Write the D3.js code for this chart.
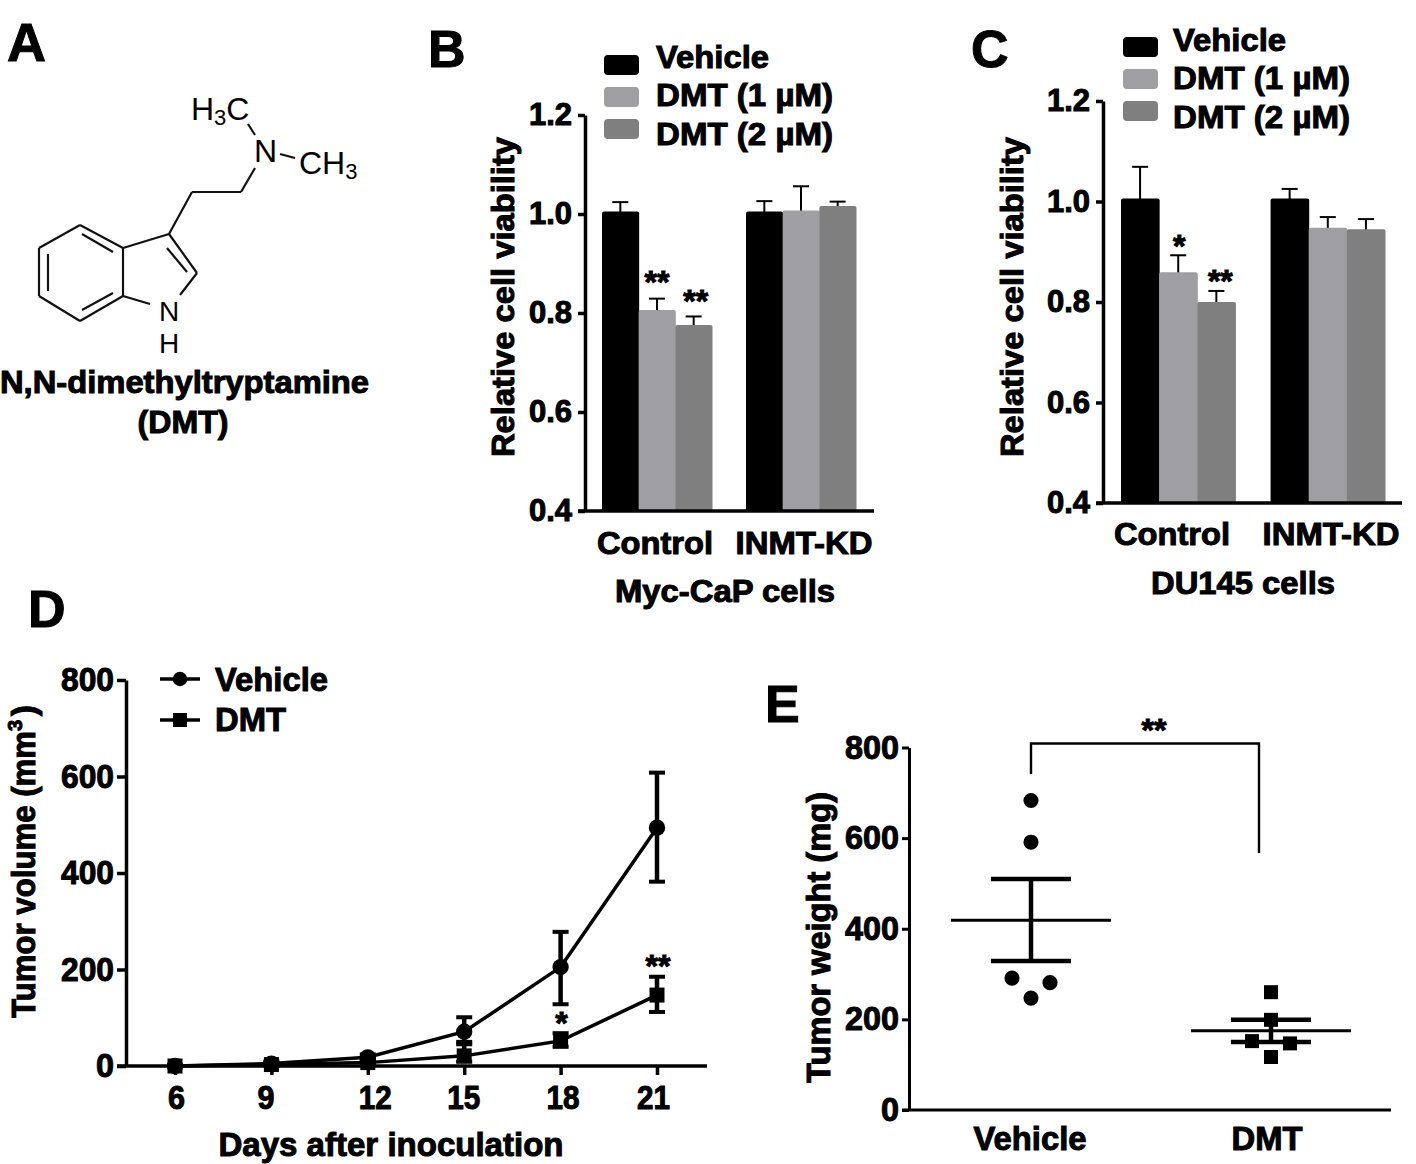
<!DOCTYPE html>
<html>
<head>
<meta charset="utf-8">
<script src="https://cdn.jsdelivr.net/npm/d3@7"></script>
<style>
  html, body { margin: 0; padding: 0; background: #fff; }
  svg { display: block; }
  text { font-family: "Liberation Sans", Arial, sans-serif; fill: #000; }
  .b { font-weight: bold; stroke: #000; stroke-width: 1px; }
</style>
</head>
<body>
<svg id="fig"></svg>
<script>
const width = 1416;
const height = 1164;

// Panels B and C
const barGroups = ["Control", "INMT-KD"];
const barSeries = ["Vehicle", "DMT (1 µM)", "DMT (2 µM)"];
const barColors = ["#000000", "#9f9fa3", "#7f7f7f"];
const barTicks = [0.4, 0.6, 0.8, 1.0, 1.2];
const mycMeans = [[1.005, 0.806, 0.776], [1.005, 1.007, 1.016]];
const mycUpper = [[1.024, 0.829, 0.793], [1.026, 1.056, 1.025]];
const mycStars = [["", "**", "**"], ["", "", ""]];
const duMeans = [[1.006, 0.859, 0.80], [1.006, 0.948, 0.945]];
const duUpper = [[1.069, 0.893, 0.822], [1.025, 0.969, 0.965]];
const duStars = [["", "*", "**"], ["", "", ""]];

// Panel D
const days = [6, 9, 12, 15, 18, 21];
const dayLabelShift = [1, -6, 7, -1, 2, -4];
const volTicks = [0, 200, 400, 600, 800];
const vehVol = [0, 5, 18, 71, 205, 494];
const vehVolLow = [0, 2, 12, 45, 128, 382];
const vehVolHigh = [2, 9, 24, 101, 278, 608];
const dmtVol = [0, 3, 7, 21, 52, 147];
const dmtVolLow = [0, 1, 3, 9, 40, 112];
const dmtVolHigh = [2, 6, 12, 50, 68, 185];
const dayStars = ["", "", "", "", "*", "**"];

// Panel E
const weightTicks = [0, 200, 400, 600, 800];
const weightGroups = ["Vehicle", "DMT"];
const vehWeights = [683, 591, 291, 281, 247];
const vehJitter = [0, 0, -19, 19, 0];
const dmtWeights = [260, 199, 152, 147, 117];
const dmtJitter = [0, 0, -19, 19, 0];
const weightMean = [419, 175];
const weightLow = [329, 150];
const weightHigh = [510, 199];

const svg = d3.select("svg#fig").attr("width", width).attr("height", height);

function txt(g, s, x, y, size, opts) {
  opts = opts || {};
  const t = g.append("text")
    .attr("x", x).attr("y", y)
    .attr("font-size", size)
    .attr("text-anchor", opts.anchor || "start")
    .text(s);
  if (opts.bold !== false) t.attr("class", "b");
  if (opts.len) t.attr("textLength", opts.len).attr("lengthAdjust", "spacingAndGlyphs");
  if (opts.rotate) t.attr("transform", "rotate(-90," + x + "," + y + ")");
  return t;
}

function styleAxis(g, w, size) {
  g.selectAll("path.domain").attr("stroke", "#000").attr("stroke-width", w);
  g.selectAll(".tick line").attr("stroke", "#000").attr("stroke-width", w);
  g.selectAll(".tick text")
    .attr("class", "b")
    .attr("font-size", size)
    .attr("font-family", null);
  g.attr("font-family", null).attr("font-size", null);
}

// Panel letters
txt(svg, "A", 7, 61, 54);
txt(svg, "B", 428, 67, 52);
txt(svg, "C", 971, 67, 52);
txt(svg, "D", 28, 627, 52);
txt(svg, "E", 765, 722, 52);

// ---- A: structure, drawn as plain bonds
const bonds = [
  [80,225,123,248],[123,248,123,296],[123,296,80,321],[80,321,39,296],[39,296,39,248],[39,248,80,225],
  [82,234,113,252],[48,254,48,291],[82,310,113,293],
  [123,248,169,234],[169,234,197,273],[197,273,180,295],[123,296,150,304],[167,248,187,272],
  [169,234,192,192],[192,192,241,192],[241,192,255,168],[248,124,255,135],[280,154,295,158]
];
const mol = svg.append("g");
mol.selectAll("line").data(bonds).enter().append("line")
  .attr("x1", d => d[0]).attr("y1", d => d[1]).attr("x2", d => d[2]).attr("y2", d => d[3])
  .attr("stroke", "#111").attr("stroke-width", 2.2);
const h3c = txt(mol, "H", 191, 120, 32, {bold: false});
h3c.append("tspan").text("3").attr("font-size", 22).attr("dy", 5);
h3c.append("tspan").text("C").attr("dy", -5);
txt(mol, "N", 254, 162, 32, {bold: false});
const ch3 = txt(mol, "CH", 299, 174, 32, {bold: false});
ch3.append("tspan").text("3").attr("font-size", 22).attr("dy", 5);
txt(mol, "N", 159, 321, 28, {bold: false});
txt(mol, "H", 159, 353, 28, {bold: false});
txt(svg, "N,N-dimethyltryptamine", 0, 393, 31, {len: 369});
txt(svg, "(DMT)", 183, 433, 31, {anchor: "middle", len: 91});

// ---- B and C
function barPanel(c) {
  const g = svg.append("g");
  const y = d3.scaleLinear().domain([0.4, 1.2]).range([c.y0, c.y1]);
  const x0 = d3.scaleBand().domain(barGroups).range([c.x0, c.x1]).paddingInner(c.gap);
  const x1 = d3.scaleBand().domain(d3.range(barSeries.length)).range([0, x0.bandwidth()]);

  barGroups.forEach(function(name, i) {
    const cell = g.append("g").attr("transform", "translate(" + x0(name) + ",0)");
    const rows = barSeries.map((s, j) => ({j: j, mean: c.means[i][j], up: c.upper[i][j], star: c.stars[i][j]}));
    cell.selectAll("line.stem").data(rows).enter().append("line").attr("class", "stem")
      .attr("x1", d => x1(d.j) + x1.bandwidth() / 2).attr("x2", d => x1(d.j) + x1.bandwidth() / 2)
      .attr("y1", d => y(d.mean) + 2).attr("y2", d => y(d.up))
      .attr("stroke", "#000").attr("stroke-width", 2);
    cell.selectAll("line.cap").data(rows).enter().append("line").attr("class", "cap")
      .attr("x1", d => x1(d.j) + x1.bandwidth() / 2 - 8).attr("x2", d => x1(d.j) + x1.bandwidth() / 2 + 8)
      .attr("y1", d => y(d.up)).attr("y2", d => y(d.up))
      .attr("stroke", "#000").attr("stroke-width", 2);
    cell.selectAll("rect").data(rows).enter().append("rect")
      .attr("x", d => x1(d.j)).attr("width", x1.bandwidth() + 0.5)
      .attr("y", d => y(d.mean)).attr("height", d => y(0.4) - y(d.mean))
      .attr("rx", 2)
      .attr("fill", d => barColors[d.j]);
    cell.selectAll("text").data(rows.filter(d => d.star)).enter().append("text")
      .attr("class", "b")
      .attr("x", d => x1(d.j) + x1.bandwidth() / 2 + c.starDx[d.j])
      .attr("y", d => y(d.up) - c.starGap[d.j] + 15)
      .attr("text-anchor", "middle").attr("font-size", 32)
      .text(d => d.star);
  });

  const yAxis = g.append("g")
    .attr("transform", "translate(" + c.axisX + ",0)")
    .call(d3.axisLeft(y).tickValues(barTicks).tickFormat(d3.format(".1f")).tickSize(7).tickSizeOuter(0).tickPadding(6));
  styleAxis(yAxis, 3.5, 31);
  g.append("line")
    .attr("x1", c.axisX - 7).attr("x2", c.axisEnd)
    .attr("y1", y(0.4)).attr("y2", y(0.4))
    .attr("stroke", "#000").attr("stroke-width", 3.5);

  txt(g, "Control", c.catX[0], c.catY, 31, {anchor: "middle", len: 116});
  txt(g, "INMT-KD", c.catX[1], c.catY, 31, {anchor: "middle", len: 137});
  txt(g, c.title, c.titleX, c.titleY, 31, {anchor: "middle", len: c.titleLen});
  txt(g, "Relative cell viability", c.labelX, 457, 31, {rotate: true, len: 320});

  g.selectAll("rect.key").data(barSeries).enter().append("rect").attr("class", "key")
    .attr("x", c.keyX).attr("width", 35).attr("height", 20)
    .attr("y", (d, i) => c.keyY[i]).attr("rx", 4)
    .attr("fill", (d, i) => barColors[i]);
  barSeries.forEach((s, i) => txt(g, s, c.keyTextX, c.keyTextY[i], 31, {len: i ? 177 : 113}));
}

barPanel({
  means: mycMeans, upper: mycUpper, stars: mycStars,
  y0: 511, y1: 115, x0: 602, x1: 856, gap: 34 / 144, starDx: [0, 0, 2], starGap: [0, 21, 19],
  axisX: 585, axisEnd: 874, catX: [655, 804], catY: 554,
  title: "Myc-CaP cells", titleX: 725, titleY: 602, titleLen: 220, labelX: 514,
  keyX: 604, keyY: [55, 87, 119], keyTextX: 656, keyTextY: [68, 106, 145]
});
barPanel({
  means: duMeans, upper: duUpper, stars: duStars,
  y0: 503, y1: 101, x0: 1121, x1: 1385, gap: 35 / 149, starDx: [0, 1, 4], starGap: [0, 13, 14],
  axisX: 1103, axisEnd: 1402, catX: [1172, 1331], catY: 545,
  title: "DU145 cells", titleX: 1243, titleY: 594, titleLen: 184, labelX: 1023,
  keyX: 1123, keyY: [37, 69, 101], keyTextX: 1173, keyTextY: [51, 89, 128]
});

// ---- D
const gd = svg.append("g");
const xd = d3.scalePoint().domain(days).range([175, 657]);
const yd = d3.scaleLinear().domain([0, 800]).range([1066, 680]);
const line = d3.line().x((d, i) => xd(days[i])).y(d => yd(d));

function volSeries(vals, low, high, square) {
  gd.append("path").datum(vals).attr("d", line)
    .attr("fill", "none").attr("stroke", "#000").attr("stroke-width", 3.5);
  const rows = days.map((d, i) => ({d: d, v: vals[i], lo: low[i], hi: high[i]}));
  const e = gd.append("g").selectAll("g").data(rows).enter().append("g");
  e.append("line").attr("x1", d => xd(d.d)).attr("x2", d => xd(d.d))
    .attr("y1", d => yd(d.lo)).attr("y2", d => yd(d.hi))
    .attr("stroke", "#000").attr("stroke-width", 4.5);
  [d => d.lo, d => d.hi].forEach(f => {
    e.append("line").attr("x1", d => xd(d.d) - 8).attr("x2", d => xd(d.d) + 8)
      .attr("y1", d => yd(f(d))).attr("y2", d => yd(f(d)))
      .attr("stroke", "#000").attr("stroke-width", 4);
  });
  const sym = d3.symbol().type(square ? d3.symbolSquare : d3.symbolCircle).size(square ? 225 : 210);
  e.append("path").attr("d", sym).attr("transform", d => "translate(" + xd(d.d) + "," + yd(d.v) + ")");
}
volSeries(vehVol, vehVolLow, vehVolHigh, false);
volSeries(dmtVol, dmtVolLow, dmtVolHigh, true);

days.forEach(function(d, i) {
  if (dayStars[i]) txt(gd, dayStars[i], xd(d) + 1, yd(dmtVolHigh[i]) + (i == 4 ? 1 : 0), 32, {anchor: "middle"});
});

const ydAxis = gd.append("g").attr("transform", "translate(126,0)")
  .call(d3.axisLeft(yd).tickValues(volTicks).tickSize(9).tickSizeOuter(0).tickPadding(3));
styleAxis(ydAxis, 3.5, 33);
ydAxis.selectAll(".tick text").attr("textLength", 53).attr("lengthAdjust", "spacingAndGlyphs");
ydAxis.selectAll(".tick text").filter(d => d == 0).attr("textLength", 18);
const xdAxis = gd.append("g").attr("transform", "translate(0,1066)")
  .call(d3.axisBottom(xd).tickSize(9).tickSizeOuter(0).tickPadding(11));
styleAxis(xdAxis, 3.5, 33);
xdAxis.select("path.domain").remove();
xdAxis.selectAll(".tick text")
  .attr("dx", (d, i) => dayLabelShift[i])
  .attr("textLength", d => d < 10 ? 17 : 33)
  .attr("lengthAdjust", "spacingAndGlyphs");
gd.append("line").attr("x1", 117).attr("x2", 707).attr("y1", 1066).attr("y2", 1066)
  .attr("stroke", "#000").attr("stroke-width", 3.5);

txt(gd, "Tumor volume (mm", 35, 1018, 33, {rotate: true, len: 287});
txt(gd, "3", 22, 731, 20, {rotate: true});
txt(gd, ")", 35, 716, 33, {rotate: true});
txt(gd, "Days after inoculation", 391, 1156, 33, {anchor: "middle", len: 345});

// legend for D
const keyD = gd.append("g");
[["Vehicle", 679, false, 691, 113], ["DMT", 720, true, 731, 71]].forEach(function(k) {
  keyD.append("line").attr("x1", 160).attr("x2", 200).attr("y1", k[1]).attr("y2", k[1])
    .attr("stroke", "#000").attr("stroke-width", 3.5);
  keyD.append("path")
    .attr("d", d3.symbol().type(k[2] ? d3.symbolSquare : d3.symbolCircle).size(k[2] ? 196 : 165))
    .attr("transform", "translate(180," + k[1] + ")");
  txt(keyD, k[0], 215, k[3], 33, {len: k[4]});
});

// ---- E
const ge = svg.append("g");
const ye = d3.scaleLinear().domain([0, 800]).range([1110, 747.5]);
const xe = d3.scalePoint().domain(weightGroups).range([1031, 1271]);

function weightDots(group, vals, jit, square) {
  const sym = d3.symbol().type(square ? d3.symbolSquare : d3.symbolCircle).size(square ? 196 : 180);
  ge.append("g").selectAll("path").data(vals).enter().append("path")
    .attr("d", sym)
    .attr("transform", (d, i) => "translate(" + (xe(group) + jit[i]) + "," + ye(d) + ")");
}
weightDots("Vehicle", vehWeights, vehJitter, false);
weightDots("DMT", dmtWeights, dmtJitter, true);

weightGroups.forEach(function(name, i) {
  const x = xe(name);
  const seg = (x1, x2, v1, v2, w) => ge.append("line")
    .attr("x1", x1).attr("x2", x2).attr("y1", ye(v1)).attr("y2", ye(v2))
    .attr("stroke", "#000").attr("stroke-width", w);
  seg(x, x, weightLow[i], weightHigh[i], 4.5);
  seg(x - 40, x + 40, weightLow[i], weightLow[i], 4.5);
  seg(x - 40, x + 40, weightHigh[i], weightHigh[i], 4.5);
  seg(x - 80, x + 80, weightMean[i], weightMean[i], 3);
});

const yeAxis = ge.append("g").attr("transform", "translate(909,0)")
  .call(d3.axisLeft(ye).tickValues(weightTicks).tickSize(7).tickSizeOuter(0).tickPadding(3));
styleAxis(yeAxis, 3, 33);
yeAxis.selectAll(".tick text").attr("textLength", 54).attr("lengthAdjust", "spacingAndGlyphs");
yeAxis.selectAll(".tick text").filter(d => d == 0).attr("textLength", 18);
ge.append("line").attr("x1", 902).attr("x2", 1391).attr("y1", ye(0)).attr("y2", ye(0))
  .attr("stroke", "#000").attr("stroke-width", 3);

txt(ge, "Vehicle", 1030, 1150, 33, {anchor: "middle", len: 113});
txt(ge, "DMT", 1267, 1150, 33, {anchor: "middle", len: 71});
txt(ge, "Tumor weight (mg)", 830, 1083, 33, {rotate: true, len: 291});

ge.append("path")
  .attr("d", "M1031,774V743.5H1259V853")
  .attr("fill", "none").attr("stroke", "#000").attr("stroke-width", 2.4);
txt(ge, "**", 1154, 741, 32, {anchor: "middle"});
</script>
</body>
</html>
